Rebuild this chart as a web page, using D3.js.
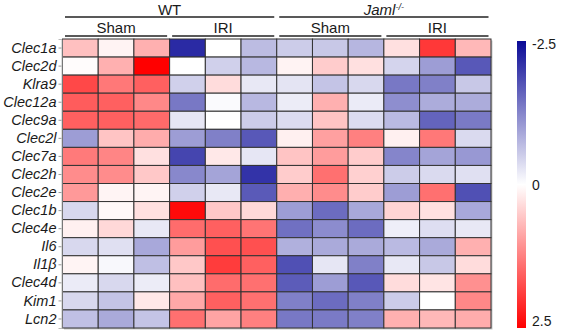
<!DOCTYPE html>
<html>
<head>
<meta charset="utf-8">
<script src="https://cdn.jsdelivr.net/npm/d3@7"></script>
<style>
  body { margin: 0; background: #fff; }
  svg { display: block; font-family: Arial, "Liberation Sans", sans-serif; }
</style>
</head>
<body>
<svg width="562" height="335"></svg>
<script>
const genes = ['Clec1a', 'Clec2d', 'Klra9', 'Clec12a', 'Clec9a', 'Clec2l', 'Clec7a', 'Clec2h',
  'Clec2e', 'Clec1b', 'Clec4e', 'Il6', 'Il1β', 'Clec4d', 'Kim1', 'Lcn2'];
const genotypes = ['WT', 'Jaml'];
const treatments = ['Sham', 'IRI'];
const replicates = [1, 2, 3];
const colorTicks = [-2.5, 0, 2.5];

// z-scores, one row per gene, columns: WT Sham x3, WT IRI x3, Jaml Sham x3, Jaml IRI x3
const zscores = [
  [0.62, 0.12, 0.77, -2.17, 0, -0.68, -0.52, -0.56, -0.75, 0.3, 1.95, 0.7],
  [0.03, 0.77, 2.5, 0, -0.48, -0.72, 0.12, 0.5, 0.3, -0.44, -1.0, -1.7],
  [1.79, 1.32, 1.56, -0.48, 0.34, -0.23, -0.28, -0.6, -0.4, -1.38, -1.3, -0.56],
  [1.6, 1.56, 1.17, -1.38, -0.05, -0.72, -0.19, 0.77, -0.2, -1.15, -0.85, -0.85],
  [1.56, 1.56, 1.46, -0.26, 0, -0.52, -0.36, 0.58, -0.36, -0.7, -1.58, -1.36],
  [-1.0, 0.58, 0.81, -1.0, -1.3, -1.7, 0.15, 0.93, 1.25, 0.15, 1.32, -0.38],
  [1.3, 1.2, 0.3, -1.9, 0.23, -0.26, 0.58, 0.97, 0.5, -1.25, -0.93, -1.05],
  [1.13, 1.13, 0.54, -1.21, -0.93, -2.08, 0.5, 1.4, 0.46, -0.52, -0.38, -0.32],
  [1.0, 0.11, 0.11, -0.48, -0.23, -1.68, 0.78, 1.13, 0.5, -1.0, 1.4, -1.79],
  [-0.4, 0.07, 0.3, 2.4, 0.54, 0.38, -1.0, -1.5, -0.89, 0.42, 0.3, -0.89],
  [0.15, 0.38, -0.23, 1.44, 1.56, 1.36, -1.46, -1.17, -1.5, -0.17, -0.34, -0.23],
  [-0.4, -0.32, -0.89, 0.97, 1.72, 1.72, -0.81, -0.87, -0.87, -0.7, -0.87, 0.77],
  [0.11, -0.07, -0.65, 0.54, 1.91, 1.56, -1.79, -0.26, -1.3, -0.23, -0.56, 0.34],
  [-0.2, -0.4, -0.19, 0.62, 1.44, 1.4, -1.66, -1.0, -1.7, 0.34, 0.26, 1.09],
  [-0.4, -0.6, 0.23, 0.85, 1.56, 1.4, -1.3, -1.5, -1.3, -0.52, 0, 1.17],
  [-0.64, -0.87, -0.6, 1.4, 0.89, 1.25, -1.38, -1.36, -1.3, 0.77, 0.7, 0.81]
];

const samples = genotypes.flatMap(g => treatments.flatMap(t => replicates.map(r => `${g}|${t}|${r}`)));
const cells = genes.flatMap((gene, i) => samples.map((s, j) => ({gene, sample: s, value: zscores[i][j]})));

const svg = d3.select('svg');
const gridLeft = 62.5, gridRight = 491, gridTop = 39, gridBottom = 328;

const x = d3.scaleBand().domain(samples).range([gridLeft, gridRight]);
const y = d3.scaleBand().domain(genes).range([gridTop, gridBottom]);

const color = d3.scaleLinear()
  .domain([-2.5, 0, 2.5])
  .range(['#0a0a96', '#ffffff', '#ff0000'])
  .clamp(true);

// soft grey edge behind the grid
svg.append('rect')
  .attr('x', gridLeft + 1.5).attr('y', gridTop + 1.5)
  .attr('width', gridRight - gridLeft).attr('height', gridBottom - gridTop)
  .attr('fill', '#c8c8c8');

svg.append('g')
  .selectAll('rect')
  .data(cells)
  .join('rect')
  .attr('x', d => x(d.sample))
  .attr('y', d => y(d.gene))
  .attr('width', x.bandwidth())
  .attr('height', y.bandwidth())
  .attr('fill', d => color(d.value))
  .attr('stroke', '#333')
  .attr('stroke-width', 1);

// gene labels
const yAxis = svg.append('g')
  .attr('transform', `translate(${gridLeft - 1},0)`)
  .call(d3.axisLeft(y).tickSize(3).tickPadding(2));
yAxis.select('.domain').attr('stroke', '#bbb');
yAxis.selectAll('.tick line').attr('stroke', '#999');
yAxis.selectAll('.tick text')
  .attr('fill', '#1a1a1a')
  .style('font-size', '14.5px')
  .style('font-style', 'italic')
  .style('font-family', 'Arial, "Liberation Sans", sans-serif');

// group headers
const header = svg.append('g');
const span = (keys) => [x(keys[0]) + 2.5, x(keys[keys.length - 1]) + x.bandwidth() - 2.5];

genotypes.forEach(g => {
  const keys = samples.filter(s => s.startsWith(g + '|'));
  const [x0, x1] = span(keys);
  header.append('line')
    .attr('x1', x0).attr('x2', x1).attr('y1', 17).attr('y2', 17)
    .attr('stroke', '#222').attr('stroke-width', 1.5);
  const t = header.append('text')
    .attr('x', (x0 + x1) / 2).attr('y', 14.5)
    .attr('text-anchor', 'middle')
    .style('font-size', '15px')
    .attr('fill', '#1a1a1a');
  if (g === 'Jaml') {
    t.append('tspan').style('font-style', 'italic').text('Jaml');
    t.append('tspan').style('font-style', 'italic').style('font-size', '9px')
      .attr('dy', -5).text('-/-');
  } else {
    t.text(g);
  }

  treatments.forEach(tr => {
    const sub = keys.filter(s => s.includes('|' + tr + '|'));
    const [s0, s1] = span(sub);
    header.append('line')
      .attr('x1', s0).attr('x2', s1).attr('y1', 36).attr('y2', 36)
      .attr('stroke', '#222').attr('stroke-width', 1.5);
    header.append('text')
      .attr('x', (s0 + s1) / 2).attr('y', 32.5)
      .attr('text-anchor', 'middle')
      .style('font-size', '15px')
      .attr('fill', '#1a1a1a')
      .text(tr);
  });
});

// colour bar
const barX = 517, barW = 9, barTop = 41, barBottom = 328;
const cy = d3.scaleLinear().domain([-2.5, 2.5]).range([barTop, barBottom]);

const grad = svg.append('defs').append('linearGradient')
  .attr('id', 'zgrad')
  .attr('x1', 0).attr('x2', 0).attr('y1', 0).attr('y2', 1);
d3.range(-2.5, 2.51, 0.25).forEach(v => {
  grad.append('stop')
    .attr('offset', (v + 2.5) / 5)
    .attr('stop-color', color(v));
});

svg.append('rect')
  .attr('x', barX).attr('y', barTop)
  .attr('width', barW).attr('height', barBottom - barTop)
  .attr('fill', 'url(#zgrad)');

svg.append('g')
  .selectAll('text')
  .data(colorTicks)
  .join('text')
  .attr('x', barX + barW + 6)
  .attr('y', (d, i) => i === 0 ? cy(d) + 8 : i === 2 ? cy(d) - 2 : cy(d) + 5)
  .style('font-size', '14px')
  .attr('fill', '#1a1a1a')
  .text(d => d);
</script>
</body>
</html>
